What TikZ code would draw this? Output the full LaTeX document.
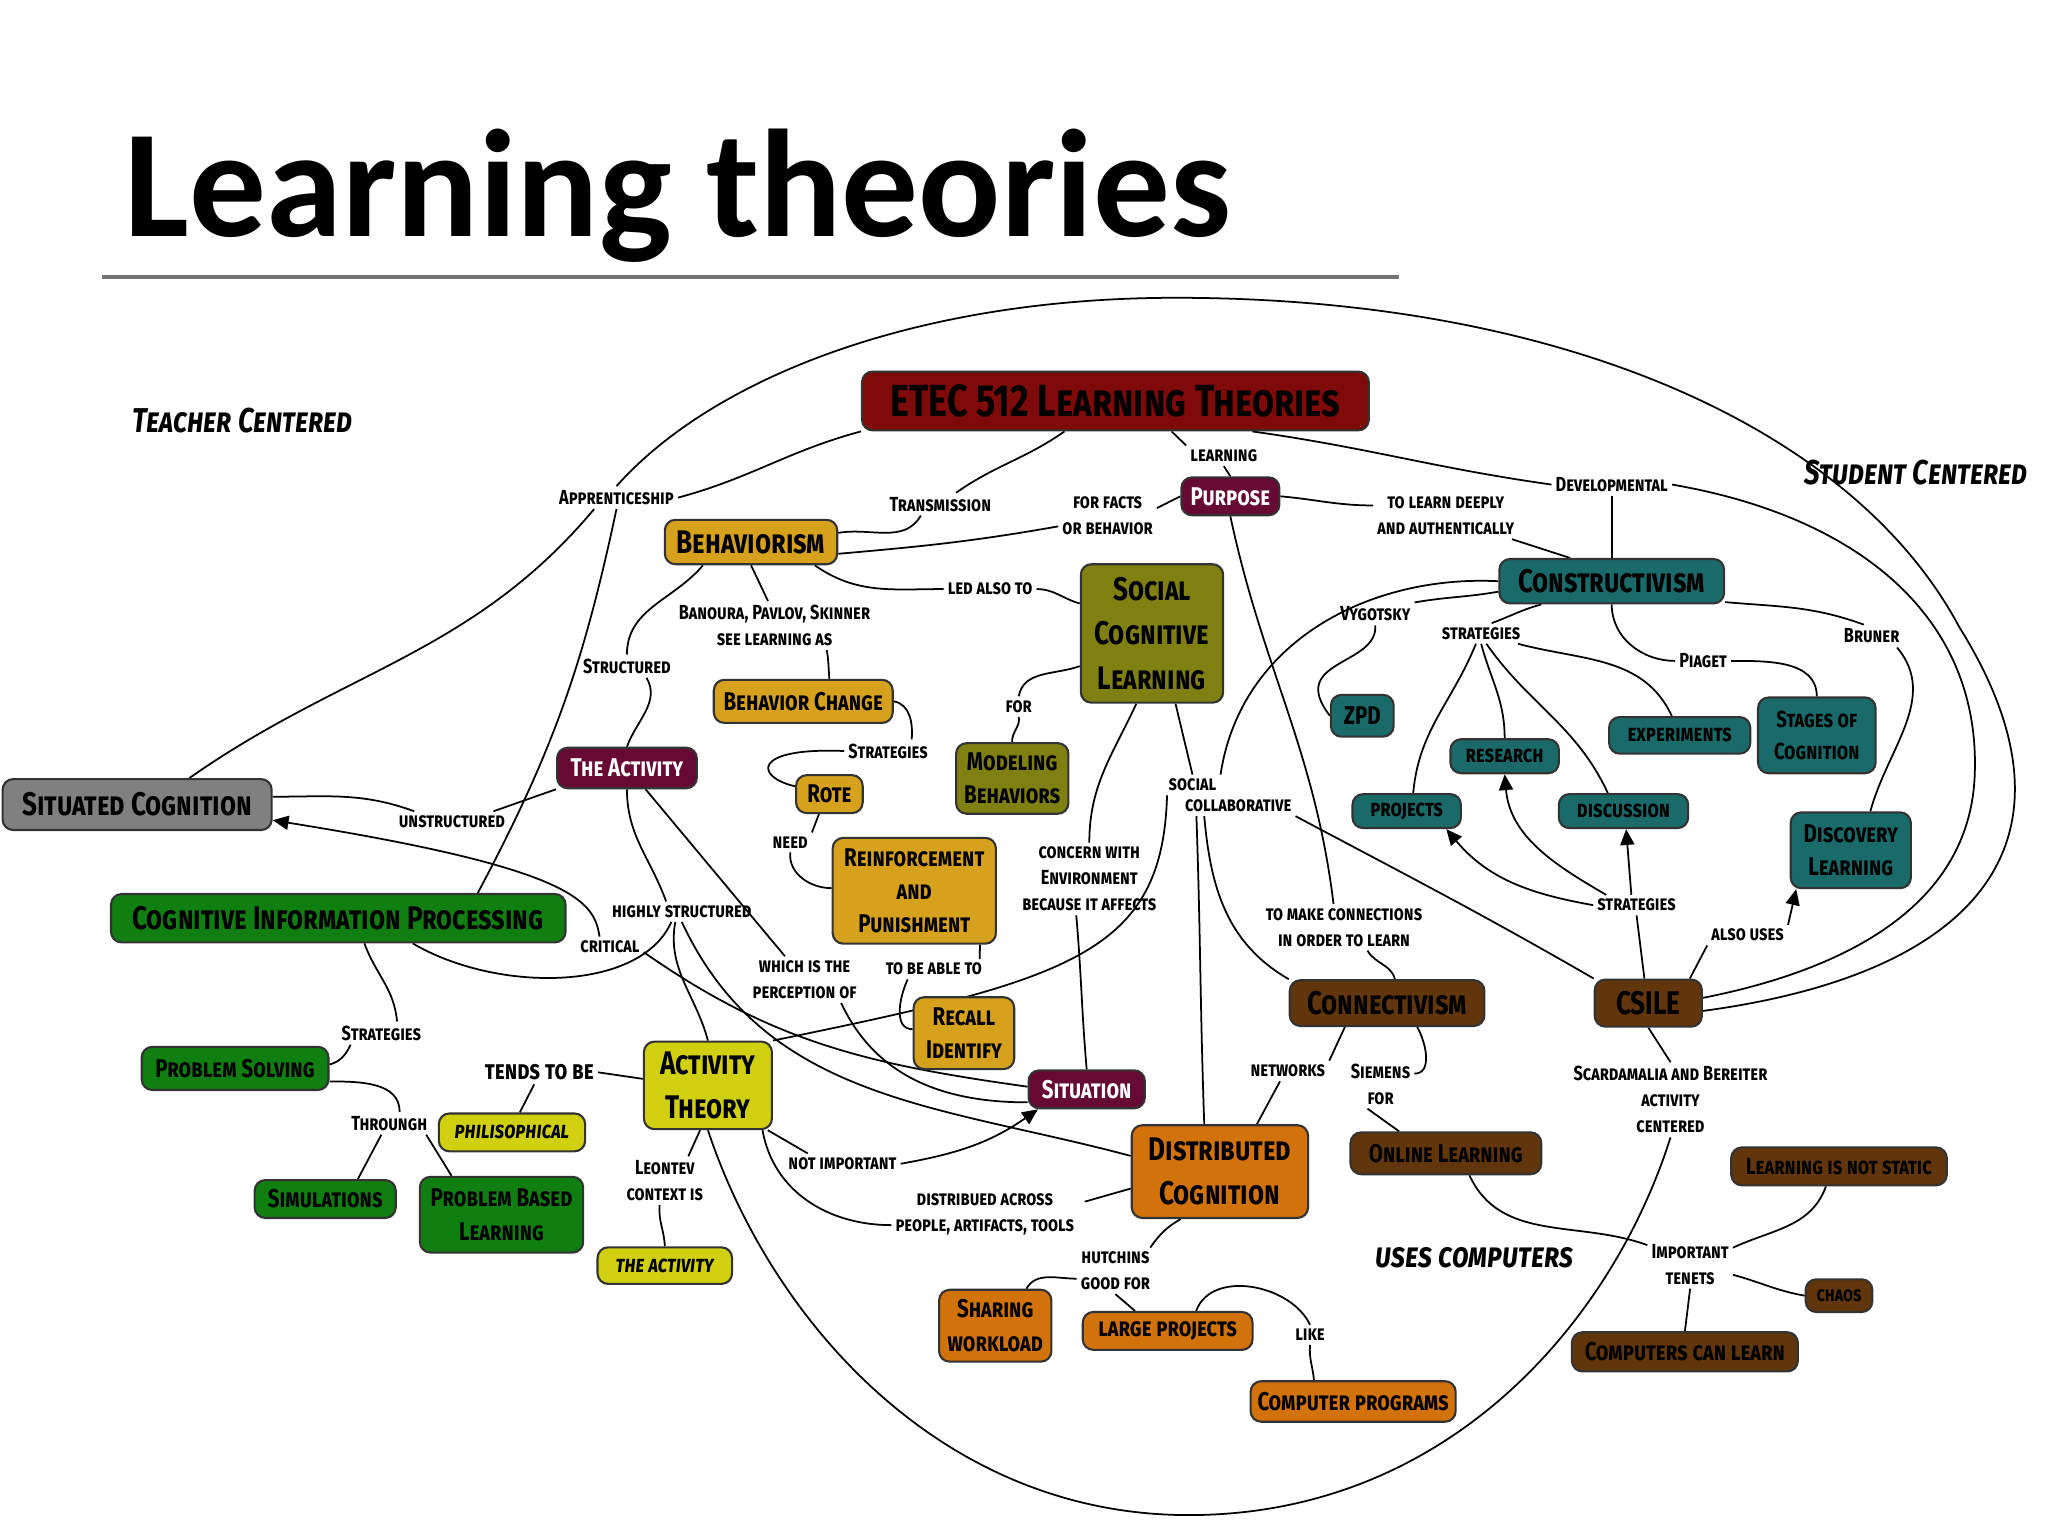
\documentclass[tikz,border=0pt]{standalone}
\usepackage{fontspec}
\setmainfont{Carlito}
\newfontfamily\handfont[Letters=SmallCaps,FakeStretch=0.8]{Fira Sans}
\usetikzlibrary{arrows.meta,calc,backgrounds}

\newcommand{\pxu}{0.0130612cm}

\definecolor{etecred}{HTML}{7E0A0A}
\definecolor{plum}{HTML}{660A33}
\definecolor{goldc}{HTML}{D6A21E}
\definecolor{olivec}{HTML}{808012}
\definecolor{grayc}{HTML}{808080}
\definecolor{greenc}{HTML}{107E10}
\definecolor{yellowc}{HTML}{D0D010}
\definecolor{orangec}{HTML}{D2720B}
\definecolor{brownc}{HTML}{62360D}
\definecolor{tealc}{HTML}{1A6A6A}

\tikzset{
  concept/.style={draw=black!80, line width=0.6pt, rounded corners=3pt, align=center, inner sep=1pt},
  wh/.style 2 args={minimum width=#1*\pxu, minimum height=#2*\pxu},
  bigtext/.style={font=\handfont\bfseries\fontsize{9.3pt}{12.6pt}\selectfont},
  midtext/.style={font=\handfont\bfseries\fontsize{7.3pt}{9.5pt}\selectfont},
  smalltext/.style={font=\handfont\bfseries\fontsize{6.6pt}{9pt}\selectfont},
  linktext/.style={font=\handfont\bfseries\fontsize{5.8pt}{7.4pt}\selectfont, align=center, inner sep=1pt},
  freetext/.style={font=\handfont\bfseries\itshape\fontsize{9.8pt}{12pt}\selectfont, inner sep=1pt},
  goldbox/.style={concept, fill=goldc},
  olivebox/.style={concept, fill=olivec},
  plumbox/.style={concept, fill=plum, text=white},
  greenbox/.style={concept, fill=greenc},
  yellowbox/.style={concept, fill=yellowc},
  orangebox/.style={concept, fill=orangec},
  brownbox/.style={concept, fill=brownc},
  tealbox/.style={concept, fill=tealc},
  conn/.style={line width=0.5pt},
  arr/.style={conn, -{Triangle[length=4.5pt,width=4pt]}}
}

\begin{document}
\begin{tikzpicture}[x=\pxu, y=-\pxu]
\useasboundingbox (0,0) rectangle (1568,1176);

% title
\node[anchor=base west, inner sep=0, font=\bfseries\fontsize{43.6pt}{50pt}\selectfont] (title) at (95,181) {Learning theories};
\draw[line width=1.1pt, color=black!55] (78,212) -- (1071,212);

% free texts
\node[freetext] (teacher) at (186,322) {Teacher Centered};
\node[freetext] (student) at (1467,362) {Student Centered};
\node[freetext] (usescomp) at (1129,963) {uses computers};

% concepts
\node[concept, fill=etecred, wh={388}{45}, font=\handfont\bfseries\fontsize{12.8pt}{15pt}\selectfont] (etec) at (854,307) {ETEC 512 Learning Theories};
\node[plumbox, midtext, wh={75}{29}] (purpose) at (942,380) {Purpose};
\node[goldbox, bigtext, wh={132}{34}] (behav) at (575,415) {Behaviorism};
\node[olivebox, bigtext, wh={109}{106}] (scl) at (882,485) {Social\\Cognitive\\Learning};
\node[goldbox, midtext, wh={137}{33}] (bchange) at (615,537) {Behavior Change};
\node[goldbox, midtext, wh={51}{29}] (rote) at (635,608) {Rote};
\node[olivebox, midtext, wh={86}{54}] (modeling) at (775,596) {Modeling\\Behaviors};
\node[goldbox, midtext, wh={125}{81}] (reinf) at (700,682) {Reinforcement\\and\\Punishment};
\node[goldbox, midtext, wh={77}{55}] (recall) at (738,791) {Recall\\Identify};
\node[plumbox, midtext, wh={107}{31}] (actm) at (480,588) {The Activity};
\node[concept, fill=grayc, bigtext, wh={206}{39}] (situated) at (105,616) {Situated Cognition};
\node[greenbox, bigtext, wh={348}{37}] (cip) at (259,703) {Cognitive Information Processing};
\node[greenbox, midtext, wh={143}{33}] (psolv) at (180,818) {Problem Solving};
\node[greenbox, midtext, wh={108}{29}] (simul) at (249,918) {Simulations};
\node[greenbox, midtext, wh={125}{58}] (pbl) at (384,930) {Problem Based\\Learning};
\node[yellowbox, smalltext, wh={112}{29}] (philo) at (392,867) {\itshape philisophical};
\node[yellowbox, bigtext, wh={98}{67}] (actth) at (542,831) {Activity\\Theory};
\node[yellowbox, smalltext, wh={103}{28}] (acty) at (509,969) {\itshape the activity};
\node[plumbox, midtext, wh={89}{29}] (situation) at (832,834) {Situation};
\node[orangebox, bigtext, wh={135}{71}] (distcog) at (934,897) {Distributed\\Cognition};
\node[orangebox, midtext, wh={86}{55}] (sharing) at (762,1015) {Sharing\\workload};
\node[orangebox, midtext, wh={130}{29}] (large) at (894,1019) {large projects};
\node[orangebox, midtext, wh={157}{31}] (comp) at (1036,1073) {Computer programs};
\node[brownbox, bigtext, wh={149}{35}] (connect) at (1062,768) {Connectivism};
\node[brownbox, midtext, wh={146}{32}] (online) at (1107,883) {Online Learning};
\node[brownbox, bigtext, wh={82}{36}] (csile) at (1262,768) {CSILE};
\node[brownbox, smalltext, wh={165}{29}] (notstatic) at (1408,893) {Learning is not static};
\node[brownbox, linktext, wh={51}{25}] (chaos) at (1408,992) {chaos};
\node[brownbox, midtext, wh={173}{30}] (canlearn) at (1290,1035) {Computers can learn};
\node[tealbox, bigtext, wh={172}{34}] (constr) at (1234,445) {Constructivism};
\node[tealbox, midtext, wh={48}{32}] (zpd) at (1043,548) {ZPD};
\node[tealbox, smalltext, wh={83}{26}] (research) at (1152,579) {research};
\node[tealbox, smalltext, wh={108}{28}] (experim) at (1286,563) {experiments};
\node[tealbox, smalltext, wh={90}{58}] (stages) at (1391,563) {Stages of\\Cognition};
\node[tealbox, smalltext, wh={83}{26}] (projects) at (1077,621) {projects};
\node[tealbox, smalltext, wh={99}{26}] (discuss) at (1243,621) {discussion};
\node[tealbox, midtext, wh={92}{58}] (discov) at (1417,651) {Discovery\\Learning};

% link phrases
\node[linktext] (lappr) at (472,381) {Apprenticeship};
\node[linktext] (ltrans) at (720,386) {Transmission};
\node[linktext] (lfacts) at (848,395) {for facts\\or behavior};
\node[linktext] (llearn) at (937,349) {learning};
\node[linktext] (ldeep) at (1107,395) {to learn deeply\\and authentically};
\node[linktext] (ldevel) at (1234,371) {Developmental};
\node[linktext] (lledalso) at (758,451) {led also to};
\node[linktext] (lbanoura) at (593,479) {Banoura, Pavlov, Skinner\\see learning as};
\node[linktext] (lstruct) at (480,510) {Structured};
\node[linktext] (lstrat1) at (680,575) {Strategies};
\node[linktext] (lfor) at (780,541) {for};
\node[linktext] (lneed) at (605,645) {need};
\node[linktext] (lvyg) at (1053,470) {Vygotsky};
\node[linktext] (lstrat2) at (1134,485) {strategies};
\node[linktext] (lpiaget) at (1304,506) {Piaget};
\node[linktext] (lbruner) at (1433,487) {Bruner};
\node[linktext] (lsocial) at (913,601) {social};
\node[linktext] (lcollab) at (948,617) {collaborative};
\node[linktext] (lunstr) at (346,629) {unstructured};
\node[linktext] (lhighly) at (522,698) {highly structured};
\node[linktext] (lcritical) at (467,725) {critical};
\node[linktext] (lwhich) at (616,750) {which is the\\perception of};
\node[linktext] (lable) at (715,742) {to be able to};
\node[linktext] (lconcern) at (834,673) {concern with\\Environment\\because it affects};
\node[linktext] (lmakecon) at (1029,710) {to make connections\\in order to learn};
\node[linktext] (lstrat3) at (1253,693) {strategies};
\node[linktext] (lalso) at (1338,716) {also uses};
\node[linktext] (lstrat4) at (292,791) {Strategies};
\node[linktext] (lthrough) at (298,860) {Throungh};
\node[linktext, font=\handfont\bfseries\fontsize{7.4pt}{9pt}\selectfont] (ltends) at (413,821) {tends to be};
\node[linktext] (lleontev) at (509,904) {Leontev\\context is};
\node[linktext] (lnotimp) at (645,891) {not important};
\node[linktext] (ldistrib) at (754,930) {distribued across\\people, artifacts, tools};
\node[linktext] (lnetworks) at (986,820) {networks};
\node[linktext] (lsiemens) at (1057,830) {Siemens\\for};
\node[linktext] (lscard) at (1279,842) {Scardamalia and Bereiter\\activity\\centered};
\node[linktext] (lhutch) at (854,973) {hutchins\\good for};
\node[linktext] (llike) at (1003,1022) {like};
\node[linktext] (ltenets) at (1294,968) {Important\\tenets};

\begin{scope}[on background layer]
% top of the map
\draw[conn] (etec.south west) to[out=195,in=15] (lappr.east);
\draw[conn] (lappr.north) .. controls (545,290) and (700,228) .. (900,228) .. controls (1200,228) and (1420,330) .. (1500,480) .. controls (1600,640) and (1520,745) .. ($(csile.east)+(0,6)$);
\draw[conn] ($(etec.south)+(-39,0)$) to[out=-145,in=35] ($(ltrans.north)+(12,0)$);
\draw[conn] ($(ltrans.south)+(-15,0)$) to[out=-120,in=10] ($(behav.east)+(0,-7)$);
\draw[conn] ($(etec.south)+(43,0)$) -- (llearn.north west);
\draw[conn] (llearn.south) -- (purpose.north);
\draw[conn] (purpose.west) -- ($(lfacts.east)+(0,-6)$);
\draw[conn] ($(lfacts.west)+(0,8)$) to[out=190,in=5] ($(behav.east)+(0,9)$);
\draw[conn] ($(etec.south east)+(-90,0)$) to[out=-8,in=172] (ldevel.west);
\draw[conn] (ldevel.south) -- (constr.north);
\draw[conn] (ldevel.east) .. controls (1420,395) and (1515,470) .. (1512,590) .. controls (1510,700) and (1400,745) .. ($(csile.east)+(0,-4)$);
\draw[conn] (purpose.east) to[out=-5,in=180] ($(ldeep.west)+(0,-8)$);
\draw[conn] ($(ldeep.south east)+(-5,0)$) -- ($(constr.north west)+(55,0)$);
\draw[conn] (purpose.south) to[out=-78,in=97] ($(lmakecon.north)+(-8,0)$);
\draw[conn] ($(lmakecon.south)+(18,0)$) to[out=-60,in=105] ($(connect.north)+(6,0)$);

% behaviorism
\draw[conn] (behav.south) -- ($(lbanoura.north)+(-5,0)$);
\draw[conn] ($(lbanoura.south)+(40,0)$) to[out=-80,in=95] ($(bchange.north)+(20,0)$);
\draw[conn] ($(behav.south east)+(-18,0)$) to[out=-35,in=180] (lledalso.west);
\draw[conn] (lledalso.east) to[out=0,in=165] ($(scl.west)+(0,-23)$);
\draw[conn] ($(behav.south west)+(30,0)$) to[out=-130,in=90] (lstruct.north);
\draw[conn] ($(lstruct.south)+(15,0)$) to[out=-60,in=70] (actm.north);
\draw[conn] (bchange.east) to[out=-10,in=85] ($(lstrat1.north)+(18,0)$);
\draw[conn] (lstrat1.west) .. controls (575,572) and (578,595) .. ($(rote.west)+(0,-6)$);
\draw[conn] ($(rote.south)+(-8,0)$) -- (lneed.north east);
\draw[conn] (lneed.south) to[out=-95,in=180] ($(reinf.west)+(0,-2)$);
\draw[conn] ($(reinf.south east)+(-13,0)$) -- ($(lable.north east)+(-5,0)$);
\draw[conn] ($(lable.south west)+(20,0)$) to[out=-115,in=180] ($(recall.west)+(0,-3)$);

% the activity and situated cognition
\draw[conn] (actm.south west) -- ($(lunstr.north east)+(-12,0)$);
\draw[conn] ($(lunstr.north west)+(15,0)$) to[out=160,in=0] ($(situated.east)+(0,-6)$);
\draw[arr] ($(lcritical.north)+(-8,0)$) .. controls (455,690) and (440,665) .. ($(situated.east)+(0,12)$);
\draw[conn] ($(situation.west)+(0,-2)$) to[out=172,in=-35] ($(lcritical.east)+(0,4)$);
\draw[conn] (actm.south) to[out=-90,in=110] ($(lhighly.north)+(-12,0)$);
\draw[conn] ($(lhighly.south)+(-5,0)$) to[out=-100,in=105] (actth.north);
\draw[conn] ($(cip.south)+(57,0)$) .. controls (380,760) and (490,760) .. ($(lhighly.south)+(-8,0)$);
\draw[conn] (lhighly.south) to[out=-65,in=165] ($(distcog.west)+(0,-12)$);
\draw[conn] ($(actm.south east)+(-40,0)$) -- ($(lwhich.north)+(-15,0)$);
\draw[conn] ($(lwhich.south east)+(-15,0)$) to[out=-65,in=180] ($(situation.west)+(0,10)$);
\draw[conn] ($(lappr.south west)+(30,0)$) to[out=-130,in=35] ($(situated.north)+(40,0)$);
\draw[conn] (lappr.south) to[out=-102,in=62] ($(cip.north east)+(-68,0)$);

% social cognitive learning
\draw[conn] ($(scl.west)+(0,25)$) to[out=200,in=80] (lfor.north);
\draw[conn] (lfor.south) to[out=-80,in=95] (modeling.north);
\draw[conn] ($(scl.south)+(-12,0)$) to[out=-115,in=90] (lconcern.north);
\draw[conn] ($(lconcern.south)+(-10,0)$) to[out=-85,in=95] (situation.north);
\draw[conn] ($(scl.south)+(18,0)$) -- (lsocial.north);
\draw[conn] (constr.west) .. controls (1050,440) and (950,490) .. (lsocial.north east);
\draw[conn] ($(lsocial.south west)+(2,0)$) .. controls (890,730) and (820,750) .. (actth.north east);
\draw[conn] ($(lcollab.south)+(-32,0)$) to[out=-88,in=92] ($(distcog.north)+(-12,0)$);
\draw[conn] ($(lcollab.south)+(-26,0)$) to[out=-85,in=150] (connect.north west);
\draw[conn] (lcollab.south east) to[out=-28,in=150] (csile.north west);

% constructivism
\draw[conn] ($(constr.west)+(0,8)$) to[out=190,in=10] (lvyg.north east);
\draw[conn] (lvyg.south) .. controls (1055,510) and (985,505) .. (zpd.west);
\draw[conn] ($(constr.south)+(-54,0)$) to[out=-165,in=20] ($(lstrat2.north)+(8,0)$);
\draw[conn] ($(lstrat2.south)+(-4,0)$) to[out=-112,in=85] ($(projects.north)+(5,0)$);
\draw[conn] (lstrat2.south) to[out=-75,in=90] (research.north);
\draw[conn] ($(lstrat2.south)+(4,0)$) to[out=-55,in=115] ($(discuss.north)+(-12,0)$);
\draw[conn] ($(lstrat2.south east)+(-5,0)$) to[out=-15,in=115] ($(experim.north)+(-6,0)$);
\draw[conn] (constr.south) to[out=-90,in=180] (lpiaget.west);
\draw[conn] (lpiaget.east) to[out=0,in=90] (stages.north);
\draw[conn] ($(constr.east)+(0,16)$) to[out=-5,in=160] ($(lbruner.north)+(-6,0)$);
\draw[conn] ($(lbruner.south east)+(-5,0)$) to[out=-50,in=75] ($(discov.north)+(15,0)$);

% csile
\draw[conn] ($(csile.north)+(-3,0)$) -- (lstrat3.south);
\draw[arr] (lstrat3.west) to[out=170,in=-50] ($(projects.south east)+(-12,0)$);
\draw[arr] ($(lstrat3.north west)+(10,0)$) to[out=150,in=-85] (research.south);
\draw[arr] ($(lstrat3.north)+(-4,0)$) -- ($(discuss.south)+(2,0)$);
\draw[conn] ($(csile.north east)+(-10,0)$) -- (lalso.south west);
\draw[arr] (lalso.north east) -- ($(discov.south west)+(5,0)$);
\draw[conn] (csile.south) -- (lscard.north);
\draw[conn] (lscard.south) .. controls (1235,1010) and (1110,1160) .. (910,1160) .. controls (720,1160) and (590,1010) .. (actth.south);

% connectivism
\draw[conn] ($(connect.south west)+(43,0)$) -- (lnetworks.north east);
\draw[conn] ($(lnetworks.south)+(-6,0)$) -- ($(distcog.north east)+(-40,0)$);
\draw[conn] ($(connect.south)+(23,0)$) to[out=-60,in=0] ($(lsiemens.east)+(0,-8)$);
\draw[conn] ($(lsiemens.south)+(-10,0)$) -- ($(online.north west)+(38,0)$);
\draw[conn] ($(online.south)+(18,0)$) to[out=-65,in=160] ($(ltenets.north west)+(0,4)$);
\draw[conn] ($(ltenets.north east)+(0,6)$) to[out=25,in=-110] ($(notstatic.south)+(-10,0)$);
\draw[conn] ($(ltenets.east)+(0,8)$) to[out=-15,in=170] (chaos.west);
\draw[conn] (ltenets.south) -- (canlearn.north);

% distributed cognition
\draw[conn] ($(distcog.west)+(0,13)$) -- ($(ldistrib.east)+(5,-10)$);
\draw[conn] ($(ldistrib.west)+(0,8)$) to[out=180,in=-80] ($(actth.south east)+(-8,0)$);
\draw[conn] ($(actth.south east)+(-4,0)$) -- ($(lnotimp.north west)+(18,0)$);
\draw[arr] (lnotimp.east) to[out=10,in=-145] ($(situation.south west)+(8,0)$);
\draw[conn] ($(distcog.south)+(-30,0)$) to[out=-150,in=55] ($(lhutch.north east)+(-3,0)$);
\draw[conn] ($(lhutch.west)+(0,6)$) to[out=180,in=60] ($(sharing.north east)+(-20,0)$);
\draw[conn] (lhutch.south) -- ($(large.north)+(-25,0)$);
\draw[conn] ($(large.north east)+(-44,0)$) to[out=70,in=115] (llike.north);
\draw[conn] (llike.south) to[out=-95,in=95] ($(comp.north)+(-30,0)$);

% cognitive information processing
\draw[conn] ($(cip.south)+(20,0)$) to[out=-70,in=95] ($(lstrat4.north)+(12,0)$);
\draw[conn] ($(lstrat4.south west)+(10,0)$) to[out=-115,in=15] ($(psolv.east)+(0,-3)$);
\draw[conn] ($(psolv.east)+(0,10)$) to[out=0,in=90] ($(lthrough.north)+(8,0)$);
\draw[conn] ($(lthrough.south)+(-6,0)$) -- ($(simul.north)+(25,0)$);
\draw[conn] ($(lthrough.south east)+(-4,0)$) -- ($(pbl.north west)+(25,0)$);

% activity theory
\draw[conn] (ltends.east) -- ($(actth.west)+(0,-5)$);
\draw[conn] ($(ltends.south)+(-4,0)$) -- ($(philo.north)+(6,0)$);
\draw[conn] ($(actth.south)+(-6,0)$) -- ($(lleontev.north)+(18,0)$);
\draw[conn] ($(lleontev.south)+(-4,0)$) to[out=-95,in=92] (acty.north);
\end{scope}

\end{tikzpicture}
\end{document}
